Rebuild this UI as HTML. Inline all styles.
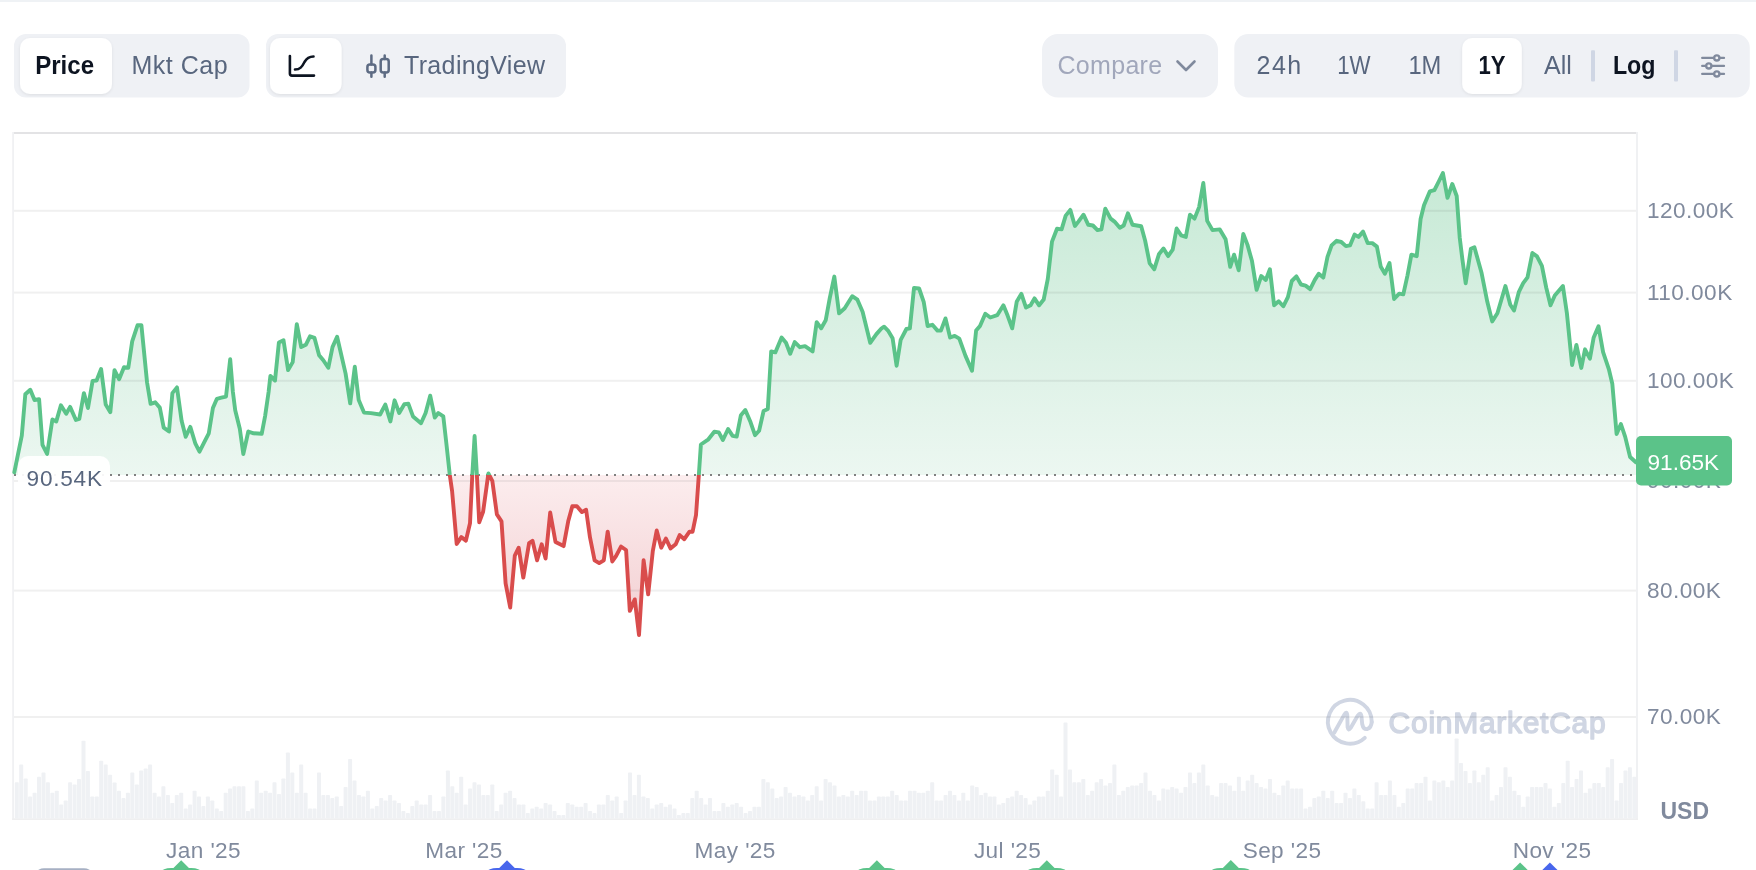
<!DOCTYPE html>
<html><head><meta charset="utf-8"><title>Chart</title>
<style>
html,body{margin:0;padding:0;background:#fff}
body{width:1756px;height:870px;overflow:hidden;position:relative;font-family:"Liberation Sans",sans-serif}
svg{position:absolute;left:0;top:0;display:block;will-change:transform}
text{font-family:"Liberation Sans",sans-serif}
.tb{font-size:25px;fill:#58667e}
.tbb{font-size:25px;fill:#0d1421;font-weight:bold}
.yl{font-size:22.6px;fill:#808a9d;letter-spacing:0.45px}
.xl{font-size:22.6px;fill:#808a9d;letter-spacing:0.4px}
</style></head><body>
<svg width="1756" height="870" viewBox="0 0 1756 870">
<defs>
<linearGradient id="gG" gradientUnits="userSpaceOnUse" x1="0" y1="170" x2="0" y2="475">
<stop offset="0" stop-color="#c6e9d5"/><stop offset="1" stop-color="#ecf7f1"/></linearGradient>
<linearGradient id="gR" gradientUnits="userSpaceOnUse" x1="0" y1="475" x2="0" y2="640">
<stop offset="0" stop-color="#fcedee"/><stop offset="1" stop-color="#f2cdd0"/></linearGradient>
<clipPath id="cA"><rect x="0" y="0" width="1756" height="475.0"/></clipPath>
<clipPath id="cB"><rect x="0" y="475.0" width="1756" height="400"/></clipPath>
<filter id="sh" x="-20%" y="-20%" width="140%" height="140%"><feDropShadow dx="0" dy="1" stdDeviation="1.5" flood-color="#0d1421" flood-opacity="0.08"/></filter>
</defs>
<rect x="0" y="0" width="1756" height="2" fill="#eff2f5"/>
<!-- top controls -->
<rect x="14" y="34" width="235.5" height="63.5" rx="12" fill="#eff1f5"/>
<rect x="20" y="38" width="92" height="56" rx="10" fill="#fff" filter="url(#sh)"/>
<text transform="matrix(0.963 0 0 1 35.2 74)" class="tbb">Price</text>
<text x="131.5" y="74" class="tb" style="letter-spacing:0.5px">Mkt Cap</text>
<rect x="266" y="34" width="300" height="63.5" rx="12" fill="#eff1f5"/>
<rect x="270" y="38" width="71.6" height="56" rx="10" fill="#fff" filter="url(#sh)"/>
<g fill="none" stroke="#0d1421" stroke-width="2.6" stroke-linecap="round" stroke-linejoin="round">
<path d="M289.9 56 V73.5 Q289.9 75.6 292 75.6 H314"/><path d="M295 69.5 C300 69.5 302 67 304.5 62 C307 57.5 309.5 56.5 313.5 56.5"/>
</g>
<g fill="none" stroke="#5d6b83" stroke-width="2.5" stroke-linecap="round">
<path d="M371.4 55.4 V64.6 M371.4 72.6 V76.8 M384.7 55.4 V58.9 M384.7 72.6 V76.8"/><rect x="367.4" y="64.6" width="8" height="8" rx="2.5"/>
<rect x="380.7" y="58.9" width="8" height="13.7" rx="2.5"/>
</g>
<text x="404" y="73.5" class="tb" style="letter-spacing:0.35px">TradingView</text>
<rect x="1042" y="34" width="176" height="63.5" rx="16" fill="#eff1f5"/>
<text x="1057.5" y="74" class="tb" style="fill:#a1a7bb;letter-spacing:0.3px">Compare</text>
<path d="M1177.5 61.5 L1186 70 L1194.5 61.5" fill="none" stroke="#808a9d" stroke-width="2.6" stroke-linecap="round" stroke-linejoin="round"/>
<rect x="1234.3" y="34" width="515.5" height="63.5" rx="14" fill="#eff1f5"/>
<text x="1256.5" y="74.2" class="tb" style="letter-spacing:1.5px">24h</text>
<text transform="matrix(0.89 0 0 1 1337.2 74.2)" class="tb">1W</text>
<text transform="matrix(0.95 0 0 1 1408.4 74.2)" class="tb">1M</text>
<rect x="1462.2" y="38" width="59.6" height="56" rx="10" fill="#fff" filter="url(#sh)"/>
<text transform="matrix(0.883 0 0 1 1478.5 74.3)" class="tbb">1Y</text>
<text x="1544" y="74.3" class="tb">All</text>
<rect x="1591" y="50.3" width="4" height="31.3" rx="1" fill="#cfd6e4"/>
<text transform="matrix(0.93 0 0 1 1612.9 74.3)" class="tbb">Log</text>
<rect x="1674" y="50.3" width="4" height="31.3" rx="1" fill="#cfd6e4"/>
<g fill="none" stroke="#808a9d" stroke-width="2.3" stroke-linecap="round">
<path d="M1702.2 57.9 H1724 M1702.2 65.9 H1724 M1702.2 73.9 H1724"/>
</g>
<g fill="#eff1f5" stroke="#808a9d" stroke-width="2.3">
<circle cx="1716.8" cy="57.9" r="2.6"/><circle cx="1708.8" cy="65.9" r="2.6"/><circle cx="1716.8" cy="73.9" r="2.6"/>
</g>
<!-- chart frame -->
<rect x="13" y="132" width="1623" height="2" fill="#e3e3e5"/>
<rect x="12.2" y="132" width="1.8" height="688" fill="#f0f1f3"/>
<rect x="1636" y="132" width="2" height="688" fill="#f0f1f3"/>
<rect x="12.2" y="818.2" width="1625.8" height="1.8" fill="#efeff0"/>
<!-- volume -->
<g fill="#eff1f4"><rect x="14.8" y="782.2" width="4" height="36.3" rx="0.8"/><rect x="19.2" y="764.6" width="4" height="53.9" rx="0.8"/><rect x="23.7" y="778.4" width="4" height="40.1" rx="0.8"/><rect x="28.1" y="796.5" width="4" height="22" rx="0.8"/><rect x="32.6" y="792.7" width="4" height="25.8" rx="0.8"/><rect x="37" y="776.8" width="4" height="41.7" rx="0.8"/><rect x="41.5" y="772.6" width="4" height="45.9" rx="0.8"/><rect x="45.9" y="782.2" width="4" height="36.3" rx="0.8"/><rect x="50.4" y="792.7" width="4" height="25.8" rx="0.8"/><rect x="54.8" y="790.8" width="4" height="27.7" rx="0.8"/><rect x="59.2" y="804.5" width="4" height="14" rx="0.8"/><rect x="63.7" y="800.4" width="4" height="18.1" rx="0.8"/><rect x="68.1" y="782.2" width="4" height="36.3" rx="0.8"/><rect x="72.6" y="784.4" width="4" height="34.1" rx="0.8"/><rect x="77" y="779" width="4" height="39.5" rx="0.8"/><rect x="81.5" y="740.7" width="4" height="77.8" rx="0.8"/><rect x="85.9" y="771" width="4" height="47.5" rx="0.8"/><rect x="90.3" y="796.5" width="4" height="22" rx="0.8"/><rect x="94.8" y="796.5" width="4" height="22" rx="0.8"/><rect x="99.2" y="760.8" width="4" height="57.7" rx="0.8"/><rect x="103.7" y="764.6" width="4" height="53.9" rx="0.8"/><rect x="108.1" y="774.8" width="4" height="43.7" rx="0.8"/><rect x="112.6" y="782.5" width="4" height="36" rx="0.8"/><rect x="117" y="790.8" width="4" height="27.7" rx="0.8"/><rect x="121.5" y="798.1" width="4" height="20.4" rx="0.8"/><rect x="125.9" y="792.7" width="4" height="25.8" rx="0.8"/><rect x="130.3" y="772.6" width="4" height="45.9" rx="0.8"/><rect x="134.8" y="784.4" width="4" height="34.1" rx="0.8"/><rect x="139.2" y="770.4" width="4" height="48.1" rx="0.8"/><rect x="143.7" y="768.5" width="4" height="50" rx="0.8"/><rect x="148.1" y="764.6" width="4" height="53.9" rx="0.8"/><rect x="152.6" y="792.7" width="4" height="25.8" rx="0.8"/><rect x="157" y="796.5" width="4" height="22" rx="0.8"/><rect x="161.4" y="786.3" width="4" height="32.2" rx="0.8"/><rect x="165.9" y="794.9" width="4" height="23.6" rx="0.8"/><rect x="170.3" y="802.9" width="4" height="15.6" rx="0.8"/><rect x="174.8" y="794.9" width="4" height="23.6" rx="0.8"/><rect x="179.2" y="792.7" width="4" height="25.8" rx="0.8"/><rect x="183.7" y="808.6" width="4" height="9.9" rx="0.8"/><rect x="188.1" y="804.5" width="4" height="14" rx="0.8"/><rect x="192.6" y="790.8" width="4" height="27.7" rx="0.8"/><rect x="197" y="796.5" width="4" height="22" rx="0.8"/><rect x="201.4" y="806.1" width="4" height="12.4" rx="0.8"/><rect x="205.9" y="796.5" width="4" height="22" rx="0.8"/><rect x="210.3" y="800.4" width="4" height="18.1" rx="0.8"/><rect x="214.8" y="808.6" width="4" height="9.9" rx="0.8"/><rect x="219.2" y="810.9" width="4" height="7.6" rx="0.8"/><rect x="223.7" y="792.7" width="4" height="25.8" rx="0.8"/><rect x="228.1" y="788.6" width="4" height="29.9" rx="0.8"/><rect x="232.5" y="786.3" width="4" height="32.2" rx="0.8"/><rect x="237" y="786.3" width="4" height="32.2" rx="0.8"/><rect x="241.4" y="786.3" width="4" height="32.2" rx="0.8"/><rect x="245.9" y="810.9" width="4" height="7.6" rx="0.8"/><rect x="250.3" y="808.6" width="4" height="9.9" rx="0.8"/><rect x="254.8" y="780.6" width="4" height="37.9" rx="0.8"/><rect x="259.2" y="792.7" width="4" height="25.8" rx="0.8"/><rect x="263.7" y="790.8" width="4" height="27.7" rx="0.8"/><rect x="268.1" y="792.7" width="4" height="25.8" rx="0.8"/><rect x="272.5" y="782.2" width="4" height="36.3" rx="0.8"/><rect x="277" y="794" width="4" height="24.5" rx="0.8"/><rect x="281.4" y="778.4" width="4" height="40.1" rx="0.8"/><rect x="285.9" y="752.5" width="4" height="66" rx="0.8"/><rect x="290.3" y="772.6" width="4" height="45.9" rx="0.8"/><rect x="294.8" y="792.7" width="4" height="25.8" rx="0.8"/><rect x="299.2" y="764.6" width="4" height="53.9" rx="0.8"/><rect x="303.6" y="792.7" width="4" height="25.8" rx="0.8"/><rect x="308.1" y="808.6" width="4" height="9.9" rx="0.8"/><rect x="312.5" y="808.6" width="4" height="9.9" rx="0.8"/><rect x="317" y="772.6" width="4" height="45.9" rx="0.8"/><rect x="321.4" y="794.9" width="4" height="23.6" rx="0.8"/><rect x="325.9" y="794.9" width="4" height="23.6" rx="0.8"/><rect x="330.3" y="798.1" width="4" height="20.4" rx="0.8"/><rect x="334.8" y="796.5" width="4" height="22" rx="0.8"/><rect x="339.2" y="806.1" width="4" height="12.4" rx="0.8"/><rect x="343.6" y="787" width="4" height="31.5" rx="0.8"/><rect x="348.1" y="758.9" width="4" height="59.6" rx="0.8"/><rect x="352.5" y="780.6" width="4" height="37.9" rx="0.8"/><rect x="357" y="794.9" width="4" height="23.6" rx="0.8"/><rect x="361.4" y="796.5" width="4" height="22" rx="0.8"/><rect x="365.9" y="790.8" width="4" height="27.7" rx="0.8"/><rect x="370.3" y="808.6" width="4" height="9.9" rx="0.8"/><rect x="374.8" y="806.1" width="4" height="12.4" rx="0.8"/><rect x="379.2" y="798.1" width="4" height="20.4" rx="0.8"/><rect x="383.6" y="800.4" width="4" height="18.1" rx="0.8"/><rect x="388.1" y="794.9" width="4" height="23.6" rx="0.8"/><rect x="392.5" y="800.4" width="4" height="18.1" rx="0.8"/><rect x="397" y="802.9" width="4" height="15.6" rx="0.8"/><rect x="401.4" y="810.9" width="4" height="7.6" rx="0.8"/><rect x="405.9" y="813.1" width="4" height="5.4" rx="0.8"/><rect x="410.3" y="806.1" width="4" height="12.4" rx="0.8"/><rect x="414.7" y="800.4" width="4" height="18.1" rx="0.8"/><rect x="419.2" y="804.5" width="4" height="14" rx="0.8"/><rect x="423.6" y="804.5" width="4" height="14" rx="0.8"/><rect x="428.1" y="794.9" width="4" height="23.6" rx="0.8"/><rect x="432.5" y="810.9" width="4" height="7.6" rx="0.8"/><rect x="437" y="810.9" width="4" height="7.6" rx="0.8"/><rect x="441.4" y="796.5" width="4" height="22" rx="0.8"/><rect x="445.9" y="770.4" width="4" height="48.1" rx="0.8"/><rect x="450.3" y="786.3" width="4" height="32.2" rx="0.8"/><rect x="454.7" y="792.7" width="4" height="25.8" rx="0.8"/><rect x="459.2" y="776.8" width="4" height="41.7" rx="0.8"/><rect x="463.6" y="804.5" width="4" height="14" rx="0.8"/><rect x="468.1" y="788.6" width="4" height="29.9" rx="0.8"/><rect x="472.5" y="782.2" width="4" height="36.3" rx="0.8"/><rect x="477" y="784.4" width="4" height="34.1" rx="0.8"/><rect x="481.4" y="794.9" width="4" height="23.6" rx="0.8"/><rect x="485.8" y="794.9" width="4" height="23.6" rx="0.8"/><rect x="490.3" y="784.4" width="4" height="34.1" rx="0.8"/><rect x="494.7" y="810.9" width="4" height="7.6" rx="0.8"/><rect x="499.2" y="804.5" width="4" height="14" rx="0.8"/><rect x="503.6" y="792.7" width="4" height="25.8" rx="0.8"/><rect x="508.1" y="790.8" width="4" height="27.7" rx="0.8"/><rect x="512.5" y="798.1" width="4" height="20.4" rx="0.8"/><rect x="517" y="804.5" width="4" height="14" rx="0.8"/><rect x="521.4" y="804.5" width="4" height="14" rx="0.8"/><rect x="525.8" y="813.1" width="4" height="5.4" rx="0.8"/><rect x="530.3" y="808.6" width="4" height="9.9" rx="0.8"/><rect x="534.7" y="806.7" width="4" height="11.8" rx="0.8"/><rect x="539.2" y="808.6" width="4" height="9.9" rx="0.8"/><rect x="543.6" y="802.9" width="4" height="15.6" rx="0.8"/><rect x="548.1" y="804.5" width="4" height="14" rx="0.8"/><rect x="552.5" y="810.9" width="4" height="7.6" rx="0.8"/><rect x="556.9" y="815" width="4" height="3.5" rx="0.8"/><rect x="561.4" y="815" width="4" height="3.5" rx="0.8"/><rect x="565.8" y="802.9" width="4" height="15.6" rx="0.8"/><rect x="570.3" y="804.5" width="4" height="14" rx="0.8"/><rect x="574.7" y="806.7" width="4" height="11.8" rx="0.8"/><rect x="579.2" y="806.7" width="4" height="11.8" rx="0.8"/><rect x="583.6" y="802.9" width="4" height="15.6" rx="0.8"/><rect x="588.1" y="810.9" width="4" height="7.6" rx="0.8"/><rect x="592.5" y="813.1" width="4" height="5.4" rx="0.8"/><rect x="596.9" y="804.5" width="4" height="14" rx="0.8"/><rect x="601.4" y="804.5" width="4" height="14" rx="0.8"/><rect x="605.8" y="794.9" width="4" height="23.6" rx="0.8"/><rect x="610.3" y="800.4" width="4" height="18.1" rx="0.8"/><rect x="614.7" y="796.5" width="4" height="22" rx="0.8"/><rect x="619.2" y="813.1" width="4" height="5.4" rx="0.8"/><rect x="623.6" y="800.4" width="4" height="18.1" rx="0.8"/><rect x="628" y="772.6" width="4" height="45.9" rx="0.8"/><rect x="632.5" y="794.9" width="4" height="23.6" rx="0.8"/><rect x="636.9" y="774.8" width="4" height="43.7" rx="0.8"/><rect x="641.4" y="796.5" width="4" height="22" rx="0.8"/><rect x="645.8" y="798.1" width="4" height="20.4" rx="0.8"/><rect x="650.3" y="808.6" width="4" height="9.9" rx="0.8"/><rect x="654.7" y="804.5" width="4" height="14" rx="0.8"/><rect x="659.2" y="802.9" width="4" height="15.6" rx="0.8"/><rect x="663.6" y="806.7" width="4" height="11.8" rx="0.8"/><rect x="668" y="804.5" width="4" height="14" rx="0.8"/><rect x="672.5" y="808.6" width="4" height="9.9" rx="0.8"/><rect x="676.9" y="815" width="4" height="3.5" rx="0.8"/><rect x="681.4" y="813.1" width="4" height="5.4" rx="0.8"/><rect x="685.8" y="813.1" width="4" height="5.4" rx="0.8"/><rect x="690.3" y="798.1" width="4" height="20.4" rx="0.8"/><rect x="694.7" y="790.8" width="4" height="27.7" rx="0.8"/><rect x="699.2" y="798.1" width="4" height="20.4" rx="0.8"/><rect x="703.6" y="804.5" width="4" height="14" rx="0.8"/><rect x="708" y="798.1" width="4" height="20.4" rx="0.8"/><rect x="712.5" y="810.9" width="4" height="7.6" rx="0.8"/><rect x="716.9" y="810.9" width="4" height="7.6" rx="0.8"/><rect x="721.4" y="802.9" width="4" height="15.6" rx="0.8"/><rect x="725.8" y="806.7" width="4" height="11.8" rx="0.8"/><rect x="730.3" y="804.5" width="4" height="14" rx="0.8"/><rect x="734.7" y="802.9" width="4" height="15.6" rx="0.8"/><rect x="739.1" y="806.7" width="4" height="11.8" rx="0.8"/><rect x="743.6" y="813.1" width="4" height="5.4" rx="0.8"/><rect x="748" y="810.9" width="4" height="7.6" rx="0.8"/><rect x="752.5" y="806.7" width="4" height="11.8" rx="0.8"/><rect x="756.9" y="806.7" width="4" height="11.8" rx="0.8"/><rect x="761.4" y="779" width="4" height="39.5" rx="0.8"/><rect x="765.8" y="782.2" width="4" height="36.3" rx="0.8"/><rect x="770.3" y="788.6" width="4" height="29.9" rx="0.8"/><rect x="774.7" y="798.1" width="4" height="20.4" rx="0.8"/><rect x="779.1" y="796.5" width="4" height="22" rx="0.8"/><rect x="783.6" y="787" width="4" height="31.5" rx="0.8"/><rect x="788" y="792.7" width="4" height="25.8" rx="0.8"/><rect x="792.5" y="796.5" width="4" height="22" rx="0.8"/><rect x="796.9" y="794.9" width="4" height="23.6" rx="0.8"/><rect x="801.4" y="796.5" width="4" height="22" rx="0.8"/><rect x="805.8" y="800.4" width="4" height="18.1" rx="0.8"/><rect x="810.2" y="794.9" width="4" height="23.6" rx="0.8"/><rect x="814.7" y="786.3" width="4" height="32.2" rx="0.8"/><rect x="819.1" y="800.4" width="4" height="18.1" rx="0.8"/><rect x="823.6" y="779" width="4" height="39.5" rx="0.8"/><rect x="828" y="782.2" width="4" height="36.3" rx="0.8"/><rect x="832.5" y="785.4" width="4" height="33.1" rx="0.8"/><rect x="836.9" y="796.5" width="4" height="22" rx="0.8"/><rect x="841.4" y="794.9" width="4" height="23.6" rx="0.8"/><rect x="845.8" y="796.5" width="4" height="22" rx="0.8"/><rect x="850.2" y="790.8" width="4" height="27.7" rx="0.8"/><rect x="854.7" y="794.9" width="4" height="23.6" rx="0.8"/><rect x="859.1" y="790.8" width="4" height="27.7" rx="0.8"/><rect x="863.6" y="790.8" width="4" height="27.7" rx="0.8"/><rect x="868" y="800.4" width="4" height="18.1" rx="0.8"/><rect x="872.5" y="800.4" width="4" height="18.1" rx="0.8"/><rect x="876.9" y="796.5" width="4" height="22" rx="0.8"/><rect x="881.3" y="796.5" width="4" height="22" rx="0.8"/><rect x="885.8" y="796.5" width="4" height="22" rx="0.8"/><rect x="890.2" y="790.8" width="4" height="27.7" rx="0.8"/><rect x="894.7" y="794.9" width="4" height="23.6" rx="0.8"/><rect x="899.1" y="800.4" width="4" height="18.1" rx="0.8"/><rect x="903.6" y="800.4" width="4" height="18.1" rx="0.8"/><rect x="908" y="790.8" width="4" height="27.7" rx="0.8"/><rect x="912.5" y="790.8" width="4" height="27.7" rx="0.8"/><rect x="916.9" y="792.7" width="4" height="25.8" rx="0.8"/><rect x="921.3" y="792.7" width="4" height="25.8" rx="0.8"/><rect x="925.8" y="790.8" width="4" height="27.7" rx="0.8"/><rect x="930.2" y="782.2" width="4" height="36.3" rx="0.8"/><rect x="934.7" y="800.4" width="4" height="18.1" rx="0.8"/><rect x="939.1" y="800.4" width="4" height="18.1" rx="0.8"/><rect x="943.6" y="794.9" width="4" height="23.6" rx="0.8"/><rect x="948" y="790.8" width="4" height="27.7" rx="0.8"/><rect x="952.4" y="794.9" width="4" height="23.6" rx="0.8"/><rect x="956.9" y="800.4" width="4" height="18.1" rx="0.8"/><rect x="961.3" y="792.7" width="4" height="25.8" rx="0.8"/><rect x="965.8" y="800.4" width="4" height="18.1" rx="0.8"/><rect x="970.2" y="785.4" width="4" height="33.1" rx="0.8"/><rect x="974.7" y="787" width="4" height="31.5" rx="0.8"/><rect x="979.1" y="794.9" width="4" height="23.6" rx="0.8"/><rect x="983.6" y="792.7" width="4" height="25.8" rx="0.8"/><rect x="988" y="796.5" width="4" height="22" rx="0.8"/><rect x="992.4" y="796.5" width="4" height="22" rx="0.8"/><rect x="996.9" y="804.5" width="4" height="14" rx="0.8"/><rect x="1001.3" y="802.9" width="4" height="15.6" rx="0.8"/><rect x="1005.8" y="798.1" width="4" height="20.4" rx="0.8"/><rect x="1010.2" y="796.5" width="4" height="22" rx="0.8"/><rect x="1014.7" y="790.8" width="4" height="27.7" rx="0.8"/><rect x="1019.1" y="794.9" width="4" height="23.6" rx="0.8"/><rect x="1023.6" y="798.1" width="4" height="20.4" rx="0.8"/><rect x="1028" y="804.5" width="4" height="14" rx="0.8"/><rect x="1032.4" y="800.4" width="4" height="18.1" rx="0.8"/><rect x="1036.9" y="796.5" width="4" height="22" rx="0.8"/><rect x="1041.3" y="796.5" width="4" height="22" rx="0.8"/><rect x="1045.8" y="790.8" width="4" height="27.7" rx="0.8"/><rect x="1050.2" y="769.4" width="4" height="49.1" rx="0.8"/><rect x="1054.7" y="774.8" width="4" height="43.7" rx="0.8"/><rect x="1059.1" y="796.5" width="4" height="22" rx="0.8"/><rect x="1063.5" y="722.6" width="4" height="95.9" rx="0.8"/><rect x="1068" y="769.4" width="4" height="49.1" rx="0.8"/><rect x="1072.4" y="782.2" width="4" height="36.3" rx="0.8"/><rect x="1076.9" y="782.2" width="4" height="36.3" rx="0.8"/><rect x="1081.3" y="779" width="4" height="39.5" rx="0.8"/><rect x="1085.8" y="794.9" width="4" height="23.6" rx="0.8"/><rect x="1090.2" y="790.8" width="4" height="27.7" rx="0.8"/><rect x="1094.7" y="782.2" width="4" height="36.3" rx="0.8"/><rect x="1099.1" y="779" width="4" height="39.5" rx="0.8"/><rect x="1103.5" y="785.4" width="4" height="33.1" rx="0.8"/><rect x="1108" y="783.1" width="4" height="35.4" rx="0.8"/><rect x="1112.4" y="764.6" width="4" height="53.9" rx="0.8"/><rect x="1116.9" y="794.9" width="4" height="23.6" rx="0.8"/><rect x="1121.3" y="790.8" width="4" height="27.7" rx="0.8"/><rect x="1125.8" y="787" width="4" height="31.5" rx="0.8"/><rect x="1130.2" y="785.4" width="4" height="33.1" rx="0.8"/><rect x="1134.6" y="785.4" width="4" height="33.1" rx="0.8"/><rect x="1139.1" y="783.1" width="4" height="35.4" rx="0.8"/><rect x="1143.5" y="772.6" width="4" height="45.9" rx="0.8"/><rect x="1148" y="790.8" width="4" height="27.7" rx="0.8"/><rect x="1152.4" y="794.9" width="4" height="23.6" rx="0.8"/><rect x="1156.9" y="800.4" width="4" height="18.1" rx="0.8"/><rect x="1161.3" y="788.6" width="4" height="29.9" rx="0.8"/><rect x="1165.8" y="789.5" width="4" height="29" rx="0.8"/><rect x="1170.2" y="787" width="4" height="31.5" rx="0.8"/><rect x="1174.6" y="788.6" width="4" height="29.9" rx="0.8"/><rect x="1179.1" y="792.7" width="4" height="25.8" rx="0.8"/><rect x="1183.5" y="787" width="4" height="31.5" rx="0.8"/><rect x="1188" y="772.6" width="4" height="45.9" rx="0.8"/><rect x="1192.4" y="783.1" width="4" height="35.4" rx="0.8"/><rect x="1196.9" y="772.6" width="4" height="45.9" rx="0.8"/><rect x="1201.3" y="764.6" width="4" height="53.9" rx="0.8"/><rect x="1205.7" y="785.4" width="4" height="33.1" rx="0.8"/><rect x="1210.2" y="794.9" width="4" height="23.6" rx="0.8"/><rect x="1214.6" y="796.5" width="4" height="22" rx="0.8"/><rect x="1219.1" y="783.1" width="4" height="35.4" rx="0.8"/><rect x="1223.5" y="783.1" width="4" height="35.4" rx="0.8"/><rect x="1228" y="785.4" width="4" height="33.1" rx="0.8"/><rect x="1232.4" y="790.8" width="4" height="27.7" rx="0.8"/><rect x="1236.9" y="776.8" width="4" height="41.7" rx="0.8"/><rect x="1241.3" y="790.8" width="4" height="27.7" rx="0.8"/><rect x="1245.7" y="780.6" width="4" height="37.9" rx="0.8"/><rect x="1250.2" y="774.8" width="4" height="43.7" rx="0.8"/><rect x="1254.6" y="783.1" width="4" height="35.4" rx="0.8"/><rect x="1259.1" y="787" width="4" height="31.5" rx="0.8"/><rect x="1263.5" y="788.6" width="4" height="29.9" rx="0.8"/><rect x="1268" y="779" width="4" height="39.5" rx="0.8"/><rect x="1272.4" y="792.7" width="4" height="25.8" rx="0.8"/><rect x="1276.8" y="794.9" width="4" height="23.6" rx="0.8"/><rect x="1281.3" y="785.4" width="4" height="33.1" rx="0.8"/><rect x="1285.7" y="780.6" width="4" height="37.9" rx="0.8"/><rect x="1290.2" y="788.6" width="4" height="29.9" rx="0.8"/><rect x="1294.6" y="788.6" width="4" height="29.9" rx="0.8"/><rect x="1299.1" y="788.6" width="4" height="29.9" rx="0.8"/><rect x="1303.5" y="808.6" width="4" height="9.9" rx="0.8"/><rect x="1308" y="806.7" width="4" height="11.8" rx="0.8"/><rect x="1312.4" y="798.1" width="4" height="20.4" rx="0.8"/><rect x="1316.8" y="796.5" width="4" height="22" rx="0.8"/><rect x="1321.3" y="790.8" width="4" height="27.7" rx="0.8"/><rect x="1325.7" y="798.1" width="4" height="20.4" rx="0.8"/><rect x="1330.2" y="790.8" width="4" height="27.7" rx="0.8"/><rect x="1334.6" y="802.9" width="4" height="15.6" rx="0.8"/><rect x="1339.1" y="802.9" width="4" height="15.6" rx="0.8"/><rect x="1343.5" y="792.7" width="4" height="25.8" rx="0.8"/><rect x="1348" y="798.1" width="4" height="20.4" rx="0.8"/><rect x="1352.4" y="788.6" width="4" height="29.9" rx="0.8"/><rect x="1356.8" y="794.9" width="4" height="23.6" rx="0.8"/><rect x="1361.3" y="801.3" width="4" height="17.2" rx="0.8"/><rect x="1365.7" y="808.6" width="4" height="9.9" rx="0.8"/><rect x="1370.2" y="808.6" width="4" height="9.9" rx="0.8"/><rect x="1374.6" y="782.2" width="4" height="36.3" rx="0.8"/><rect x="1379.1" y="794.9" width="4" height="23.6" rx="0.8"/><rect x="1383.5" y="794.9" width="4" height="23.6" rx="0.8"/><rect x="1387.9" y="780.6" width="4" height="37.9" rx="0.8"/><rect x="1392.4" y="794.9" width="4" height="23.6" rx="0.8"/><rect x="1396.8" y="806.7" width="4" height="11.8" rx="0.8"/><rect x="1401.3" y="802.9" width="4" height="15.6" rx="0.8"/><rect x="1405.7" y="788.6" width="4" height="29.9" rx="0.8"/><rect x="1410.2" y="788.6" width="4" height="29.9" rx="0.8"/><rect x="1414.6" y="783.1" width="4" height="35.4" rx="0.8"/><rect x="1419.1" y="783.1" width="4" height="35.4" rx="0.8"/><rect x="1423.5" y="776.8" width="4" height="41.7" rx="0.8"/><rect x="1427.9" y="800.4" width="4" height="18.1" rx="0.8"/><rect x="1432.4" y="780.6" width="4" height="37.9" rx="0.8"/><rect x="1436.8" y="782.2" width="4" height="36.3" rx="0.8"/><rect x="1441.3" y="780.6" width="4" height="37.9" rx="0.8"/><rect x="1445.7" y="787" width="4" height="31.5" rx="0.8"/><rect x="1450.2" y="780.6" width="4" height="37.9" rx="0.8"/><rect x="1454.6" y="738.5" width="4" height="80" rx="0.8"/><rect x="1459" y="763" width="4" height="55.5" rx="0.8"/><rect x="1463.5" y="771" width="4" height="47.5" rx="0.8"/><rect x="1467.9" y="783.1" width="4" height="35.4" rx="0.8"/><rect x="1472.4" y="770.4" width="4" height="48.1" rx="0.8"/><rect x="1476.8" y="782.2" width="4" height="36.3" rx="0.8"/><rect x="1481.3" y="774.8" width="4" height="43.7" rx="0.8"/><rect x="1485.7" y="767.2" width="4" height="51.3" rx="0.8"/><rect x="1490.2" y="800.4" width="4" height="18.1" rx="0.8"/><rect x="1494.6" y="794.9" width="4" height="23.6" rx="0.8"/><rect x="1499" y="787" width="4" height="31.5" rx="0.8"/><rect x="1503.5" y="767.2" width="4" height="51.3" rx="0.8"/><rect x="1507.9" y="776.8" width="4" height="41.7" rx="0.8"/><rect x="1512.4" y="790.8" width="4" height="27.7" rx="0.8"/><rect x="1516.8" y="794.9" width="4" height="23.6" rx="0.8"/><rect x="1521.3" y="806.7" width="4" height="11.8" rx="0.8"/><rect x="1525.7" y="796.5" width="4" height="22" rx="0.8"/><rect x="1530.1" y="787" width="4" height="31.5" rx="0.8"/><rect x="1534.6" y="787" width="4" height="31.5" rx="0.8"/><rect x="1539" y="787" width="4" height="31.5" rx="0.8"/><rect x="1543.5" y="783.1" width="4" height="35.4" rx="0.8"/><rect x="1547.9" y="788.6" width="4" height="29.9" rx="0.8"/><rect x="1552.4" y="806.7" width="4" height="11.8" rx="0.8"/><rect x="1556.8" y="802.9" width="4" height="15.6" rx="0.8"/><rect x="1561.3" y="783.1" width="4" height="35.4" rx="0.8"/><rect x="1565.7" y="760.8" width="4" height="57.7" rx="0.8"/><rect x="1570.1" y="787" width="4" height="31.5" rx="0.8"/><rect x="1574.6" y="779" width="4" height="39.5" rx="0.8"/><rect x="1579" y="770.4" width="4" height="48.1" rx="0.8"/><rect x="1583.5" y="792.7" width="4" height="25.8" rx="0.8"/><rect x="1587.9" y="788.6" width="4" height="29.9" rx="0.8"/><rect x="1592.4" y="783.1" width="4" height="35.4" rx="0.8"/><rect x="1596.8" y="783.1" width="4" height="35.4" rx="0.8"/><rect x="1601.2" y="787" width="4" height="31.5" rx="0.8"/><rect x="1605.7" y="767.2" width="4" height="51.3" rx="0.8"/><rect x="1610.1" y="758.9" width="4" height="59.6" rx="0.8"/><rect x="1614.6" y="800.4" width="4" height="18.1" rx="0.8"/><rect x="1619" y="783.1" width="4" height="35.4" rx="0.8"/><rect x="1623.5" y="770.4" width="4" height="48.1" rx="0.8"/><rect x="1627.9" y="767.2" width="4" height="51.3" rx="0.8"/><rect x="1632.4" y="776.8" width="4" height="41.7" rx="0.8"/></g>
<!-- watermark -->
<g fill="none" stroke="#d0d6e3" stroke-width="3.9" stroke-linecap="round" stroke-linejoin="round">
<path d="M1364.8 737.8 A21.9 21.9 0 1 1 1371.75 721.9"/>
<path d="M1334.2 732.8 L1344.3 714.6 Q1346.5 710.6 1347.3 715 L1347.6 727.3 Q1348.3 731.5 1350.6 728 L1357.8 715.6 Q1360.5 711.6 1361.4 716 L1362.2 724 Q1363.4 730 1367.4 729 Q1371.3 727.6 1371.7 722"/>
</g>
<text x="1388.6" y="733.3" font-size="30" fill="#d0d6e3" stroke="#d0d6e3" stroke-width="1.4" stroke-linejoin="round" letter-spacing="0.72">CoinMarketCap</text>
<!-- area -->
<path d="M14.3 472.4 L21.8 435.6 L25.3 394.3 L30.3 389.7 L34.5 400 L39.1 399.3 L42.5 444.8 L47.1 454 L52.4 419.5 L56.3 421.4 L60.9 405.3 L66.2 413.8 L70.1 406.9 L75.9 420 L79.3 419 L83.9 393.1 L88 408 L92.6 380.9 L96.6 380.5 L101.1 369 L105.7 404.6 L110.3 412.2 L114.5 370.1 L119.1 379.3 L124.1 367.1 L128.3 367.8 L132.2 341.4 L137.5 325.3 L141.4 325.3 L147.1 382.8 L150.6 403.9 L155.2 402.3 L159.8 407.6 L163.7 427.6 L169 431.5 L172.4 393.1 L177 387.4 L181.6 420.7 L185.7 436.8 L190.3 426.9 L195.4 443.7 L199.5 451.7 L205.3 440.2 L208.8 433.3 L212.9 408 L216.8 398.9 L221.4 397.7 L226 396.6 L230.2 359.3 L232.9 392 L235.2 410.3 L239.8 428.7 L243.3 454 L248.3 431.5 L253.6 433.3 L261.7 433.8 L265.1 416.1 L268.6 392 L270.4 375.9 L275 380.5 L278.9 342.5 L283.5 340.2 L288.1 370.1 L292.7 362.1 L296.8 324.1 L301.2 347.1 L305.8 344.8 L310 336.3 L314.5 337.9 L319.1 355.2 L323.3 360.2 L328.3 367.8 L332.5 347.1 L337.1 336.8 L345.6 373.6 L350.2 403.4 L354.8 366.7 L358.7 400 L364 412.6 L370.9 413.1 L380.1 414.5 L385.3 404.6 L390.4 421.4 L394.6 400.3 L399.2 413 L404.3 404.3 L408.4 403.8 L413 416.4 L421 423.3 L425.6 413 L430.2 395.7 L434.8 417.6 L438.3 413 L443.3 416.4 L446.3 442.9 L449.8 475 L452.1 491.1 L456.7 544 L461.3 537.1 L465.9 540.6 L470 523.3 L472.3 475 L474.6 436 L476.9 475 L479.2 522.2 L483.1 511.8 L486.6 486.6 L488.4 473.5 L492.3 480.8 L496.9 514.4 L501.5 521.3 L505.6 583.3 L510.2 607.5 L514.8 555.7 L518.7 547.7 L523.3 577.6 L529.1 543.1 L532.5 540.8 L537.1 560.3 L541.7 544.3 L545.6 558.5 L550.2 512.5 L555.5 542 L563.6 546.1 L568.2 521.3 L572.3 506.3 L576.9 506.3 L582 512.1 L586.1 509.8 L590 537.4 L594.6 560.3 L599.2 563.1 L603.8 560.3 L607.7 531.6 L612.3 561.5 L616 556.2 L621 546.6 L626.1 550 L629.8 610.9 L634.8 599.4 L639 635.1 L643.6 560.3 L648.2 594.4 L652.8 551.1 L656.7 530.5 L661.3 547.7 L665.9 538.5 L670.5 548.4 L675.7 544.3 L679.7 535.1 L684.3 539.2 L689.5 531.6 L692.6 531.7 L696 515.2 L698.8 475.5 L700.9 444.5 L708.4 439.3 L714.3 431.7 L718.8 432.4 L722.9 440 L728.1 429 L732.6 435.9 L736.7 436.6 L740.9 415.2 L745.3 410 L750.5 422.1 L755 435.2 L759.1 430.7 L763.6 411 L767.8 409 L771.2 351.4 L775.3 352.4 L781.6 337.6 L786 342.8 L790.2 353.8 L794.7 342.1 L799.8 347.2 L805 346.2 L812.6 351.4 L816.7 322.1 L821.2 328.3 L825.7 320.3 L829.8 297.9 L834.3 276.6 L839.1 313.4 L844.7 308.3 L852.2 296.2 L857.4 299.7 L862.6 311.7 L870.2 342.8 L876.4 334.1 L881.6 328.3 L884.1 326.7 L888 330.6 L892.6 338.2 L896.6 365.7 L900.7 339.8 L906.4 329 L909.9 328.3 L914 288 L919.1 288.5 L923.7 301.8 L927.6 326 L932.4 324.8 L937.5 330.6 L940.9 330.6 L945.5 318.4 L950.1 337.5 L954.7 335.9 L959.3 338.6 L965.5 355.9 L972 370.8 L976.1 330.6 L980 326 L985.3 313.8 L990.3 317.5 L997.2 315.2 L1003.4 305.3 L1007.6 315.6 L1012.2 328.3 L1016.8 301.4 L1021.4 293.8 L1026 307.6 L1030.6 305.3 L1034.5 298.4 L1039.1 305.3 L1043.7 299.5 L1047.8 278.9 L1052 241.6 L1057 228.7 L1061.6 229.4 L1065.7 215.6 L1070.3 209.9 L1074.9 226 L1078.4 221.6 L1083.5 214.7 L1088.3 224.8 L1092.9 225.5 L1097.5 230.1 L1101.4 229.4 L1105.3 208.7 L1110.6 218.6 L1114.5 221.6 L1119.8 227.8 L1123.7 225.5 L1127.9 213.3 L1132.5 224.8 L1141.2 226.2 L1145.1 240.5 L1149.7 263.4 L1154.3 269.2 L1158.9 254.3 L1163.5 248.5 L1168.1 256.1 L1172.7 249.7 L1176.6 228.5 L1181.2 235.4 L1185.8 237 L1190 214.7 L1194.5 218.6 L1199.1 207.1 L1203.3 183 L1207.2 220.9 L1212.5 230.1 L1219.8 229.4 L1225.6 239.3 L1230.2 266.9 L1234.1 254.7 L1238.7 270.3 L1243.3 234 L1247.4 244.6 L1252 261.1 L1256.6 289.9 L1261.2 276.1 L1265.8 280 L1269.9 269.2 L1274.1 305.2 L1278.7 301.3 L1283.3 306.3 L1287.9 297.1 L1291.8 281 L1296.4 276.4 L1301 284.5 L1305.6 285.6 L1310.2 289.1 L1314.8 279.9 L1318.7 273.7 L1323.3 277.6 L1327.5 256.9 L1331.6 245.4 L1336.7 240.8 L1341.3 242 L1345.9 246.1 L1350 245.4 L1354.6 234.6 L1358.5 236.9 L1363.1 231.6 L1367.7 243.1 L1372.3 243.1 L1376.9 246.6 L1380.8 266.8 L1384.9 273.7 L1389.5 263.1 L1394.1 299 L1399.2 293.7 L1403.3 294.4 L1407.5 275.3 L1411.4 254.6 L1416.7 256.2 L1420.6 219 L1424 205.2 L1429.8 191.4 L1434.4 190.2 L1439 181 L1442.9 173 L1447.5 197.8 L1452.3 184 L1456.7 196 L1459.7 237.4 L1462.3 258.7 L1465.7 283.2 L1470.9 248.7 L1474.4 247.2 L1481.6 273.1 L1487.3 301.8 L1492.2 321.4 L1497.4 313.3 L1505.4 286 L1510.3 304.7 L1514 310.5 L1518.9 291.8 L1523.2 283.2 L1527.5 277.4 L1532.4 253 L1537 256.4 L1541.9 265.9 L1546.2 287.5 L1550.5 305.3 L1554.8 295.5 L1562.9 286 L1566.9 313.3 L1572.1 365.1 L1576.4 344.9 L1581.3 367.9 L1585 349.3 L1589.9 358.7 L1593.6 337.8 L1598.5 326.3 L1603.1 352.1 L1608.9 369.4 L1612.3 383.7 L1616.6 434 L1620.9 424 L1625.2 436.9 L1630.1 457 L1635.9 462.2 L1635.9 475.0 L14.3 475.0 Z" fill="url(#gG)" clip-path="url(#cA)"/>
<path d="M14.3 472.4 L21.8 435.6 L25.3 394.3 L30.3 389.7 L34.5 400 L39.1 399.3 L42.5 444.8 L47.1 454 L52.4 419.5 L56.3 421.4 L60.9 405.3 L66.2 413.8 L70.1 406.9 L75.9 420 L79.3 419 L83.9 393.1 L88 408 L92.6 380.9 L96.6 380.5 L101.1 369 L105.7 404.6 L110.3 412.2 L114.5 370.1 L119.1 379.3 L124.1 367.1 L128.3 367.8 L132.2 341.4 L137.5 325.3 L141.4 325.3 L147.1 382.8 L150.6 403.9 L155.2 402.3 L159.8 407.6 L163.7 427.6 L169 431.5 L172.4 393.1 L177 387.4 L181.6 420.7 L185.7 436.8 L190.3 426.9 L195.4 443.7 L199.5 451.7 L205.3 440.2 L208.8 433.3 L212.9 408 L216.8 398.9 L221.4 397.7 L226 396.6 L230.2 359.3 L232.9 392 L235.2 410.3 L239.8 428.7 L243.3 454 L248.3 431.5 L253.6 433.3 L261.7 433.8 L265.1 416.1 L268.6 392 L270.4 375.9 L275 380.5 L278.9 342.5 L283.5 340.2 L288.1 370.1 L292.7 362.1 L296.8 324.1 L301.2 347.1 L305.8 344.8 L310 336.3 L314.5 337.9 L319.1 355.2 L323.3 360.2 L328.3 367.8 L332.5 347.1 L337.1 336.8 L345.6 373.6 L350.2 403.4 L354.8 366.7 L358.7 400 L364 412.6 L370.9 413.1 L380.1 414.5 L385.3 404.6 L390.4 421.4 L394.6 400.3 L399.2 413 L404.3 404.3 L408.4 403.8 L413 416.4 L421 423.3 L425.6 413 L430.2 395.7 L434.8 417.6 L438.3 413 L443.3 416.4 L446.3 442.9 L449.8 475 L452.1 491.1 L456.7 544 L461.3 537.1 L465.9 540.6 L470 523.3 L472.3 475 L474.6 436 L476.9 475 L479.2 522.2 L483.1 511.8 L486.6 486.6 L488.4 473.5 L492.3 480.8 L496.9 514.4 L501.5 521.3 L505.6 583.3 L510.2 607.5 L514.8 555.7 L518.7 547.7 L523.3 577.6 L529.1 543.1 L532.5 540.8 L537.1 560.3 L541.7 544.3 L545.6 558.5 L550.2 512.5 L555.5 542 L563.6 546.1 L568.2 521.3 L572.3 506.3 L576.9 506.3 L582 512.1 L586.1 509.8 L590 537.4 L594.6 560.3 L599.2 563.1 L603.8 560.3 L607.7 531.6 L612.3 561.5 L616 556.2 L621 546.6 L626.1 550 L629.8 610.9 L634.8 599.4 L639 635.1 L643.6 560.3 L648.2 594.4 L652.8 551.1 L656.7 530.5 L661.3 547.7 L665.9 538.5 L670.5 548.4 L675.7 544.3 L679.7 535.1 L684.3 539.2 L689.5 531.6 L692.6 531.7 L696 515.2 L698.8 475.5 L700.9 444.5 L708.4 439.3 L714.3 431.7 L718.8 432.4 L722.9 440 L728.1 429 L732.6 435.9 L736.7 436.6 L740.9 415.2 L745.3 410 L750.5 422.1 L755 435.2 L759.1 430.7 L763.6 411 L767.8 409 L771.2 351.4 L775.3 352.4 L781.6 337.6 L786 342.8 L790.2 353.8 L794.7 342.1 L799.8 347.2 L805 346.2 L812.6 351.4 L816.7 322.1 L821.2 328.3 L825.7 320.3 L829.8 297.9 L834.3 276.6 L839.1 313.4 L844.7 308.3 L852.2 296.2 L857.4 299.7 L862.6 311.7 L870.2 342.8 L876.4 334.1 L881.6 328.3 L884.1 326.7 L888 330.6 L892.6 338.2 L896.6 365.7 L900.7 339.8 L906.4 329 L909.9 328.3 L914 288 L919.1 288.5 L923.7 301.8 L927.6 326 L932.4 324.8 L937.5 330.6 L940.9 330.6 L945.5 318.4 L950.1 337.5 L954.7 335.9 L959.3 338.6 L965.5 355.9 L972 370.8 L976.1 330.6 L980 326 L985.3 313.8 L990.3 317.5 L997.2 315.2 L1003.4 305.3 L1007.6 315.6 L1012.2 328.3 L1016.8 301.4 L1021.4 293.8 L1026 307.6 L1030.6 305.3 L1034.5 298.4 L1039.1 305.3 L1043.7 299.5 L1047.8 278.9 L1052 241.6 L1057 228.7 L1061.6 229.4 L1065.7 215.6 L1070.3 209.9 L1074.9 226 L1078.4 221.6 L1083.5 214.7 L1088.3 224.8 L1092.9 225.5 L1097.5 230.1 L1101.4 229.4 L1105.3 208.7 L1110.6 218.6 L1114.5 221.6 L1119.8 227.8 L1123.7 225.5 L1127.9 213.3 L1132.5 224.8 L1141.2 226.2 L1145.1 240.5 L1149.7 263.4 L1154.3 269.2 L1158.9 254.3 L1163.5 248.5 L1168.1 256.1 L1172.7 249.7 L1176.6 228.5 L1181.2 235.4 L1185.8 237 L1190 214.7 L1194.5 218.6 L1199.1 207.1 L1203.3 183 L1207.2 220.9 L1212.5 230.1 L1219.8 229.4 L1225.6 239.3 L1230.2 266.9 L1234.1 254.7 L1238.7 270.3 L1243.3 234 L1247.4 244.6 L1252 261.1 L1256.6 289.9 L1261.2 276.1 L1265.8 280 L1269.9 269.2 L1274.1 305.2 L1278.7 301.3 L1283.3 306.3 L1287.9 297.1 L1291.8 281 L1296.4 276.4 L1301 284.5 L1305.6 285.6 L1310.2 289.1 L1314.8 279.9 L1318.7 273.7 L1323.3 277.6 L1327.5 256.9 L1331.6 245.4 L1336.7 240.8 L1341.3 242 L1345.9 246.1 L1350 245.4 L1354.6 234.6 L1358.5 236.9 L1363.1 231.6 L1367.7 243.1 L1372.3 243.1 L1376.9 246.6 L1380.8 266.8 L1384.9 273.7 L1389.5 263.1 L1394.1 299 L1399.2 293.7 L1403.3 294.4 L1407.5 275.3 L1411.4 254.6 L1416.7 256.2 L1420.6 219 L1424 205.2 L1429.8 191.4 L1434.4 190.2 L1439 181 L1442.9 173 L1447.5 197.8 L1452.3 184 L1456.7 196 L1459.7 237.4 L1462.3 258.7 L1465.7 283.2 L1470.9 248.7 L1474.4 247.2 L1481.6 273.1 L1487.3 301.8 L1492.2 321.4 L1497.4 313.3 L1505.4 286 L1510.3 304.7 L1514 310.5 L1518.9 291.8 L1523.2 283.2 L1527.5 277.4 L1532.4 253 L1537 256.4 L1541.9 265.9 L1546.2 287.5 L1550.5 305.3 L1554.8 295.5 L1562.9 286 L1566.9 313.3 L1572.1 365.1 L1576.4 344.9 L1581.3 367.9 L1585 349.3 L1589.9 358.7 L1593.6 337.8 L1598.5 326.3 L1603.1 352.1 L1608.9 369.4 L1612.3 383.7 L1616.6 434 L1620.9 424 L1625.2 436.9 L1630.1 457 L1635.9 462.2 L1635.9 475.0 L14.3 475.0 Z" fill="url(#gR)" clip-path="url(#cB)"/>
<rect x="14" y="209.8" width="1622" height="2" fill="#000" fill-opacity="0.06"/><rect x="14" y="291.6" width="1622" height="2" fill="#000" fill-opacity="0.06"/><rect x="14" y="379.8" width="1622" height="2" fill="#000" fill-opacity="0.06"/><rect x="14" y="480" width="1622" height="2" fill="#000" fill-opacity="0.06"/><rect x="14" y="589.6" width="1622" height="2" fill="#000" fill-opacity="0.06"/><rect x="14" y="716" width="1622" height="2" fill="#000" fill-opacity="0.06"/>
<!-- baseline dotted -->
<line x1="14" y1="475" x2="1636" y2="475" stroke="#808080" stroke-width="2" stroke-dasharray="2 6"/>
<path d="M14.3 472.4 L21.8 435.6 L25.3 394.3 L30.3 389.7 L34.5 400 L39.1 399.3 L42.5 444.8 L47.1 454 L52.4 419.5 L56.3 421.4 L60.9 405.3 L66.2 413.8 L70.1 406.9 L75.9 420 L79.3 419 L83.9 393.1 L88 408 L92.6 380.9 L96.6 380.5 L101.1 369 L105.7 404.6 L110.3 412.2 L114.5 370.1 L119.1 379.3 L124.1 367.1 L128.3 367.8 L132.2 341.4 L137.5 325.3 L141.4 325.3 L147.1 382.8 L150.6 403.9 L155.2 402.3 L159.8 407.6 L163.7 427.6 L169 431.5 L172.4 393.1 L177 387.4 L181.6 420.7 L185.7 436.8 L190.3 426.9 L195.4 443.7 L199.5 451.7 L205.3 440.2 L208.8 433.3 L212.9 408 L216.8 398.9 L221.4 397.7 L226 396.6 L230.2 359.3 L232.9 392 L235.2 410.3 L239.8 428.7 L243.3 454 L248.3 431.5 L253.6 433.3 L261.7 433.8 L265.1 416.1 L268.6 392 L270.4 375.9 L275 380.5 L278.9 342.5 L283.5 340.2 L288.1 370.1 L292.7 362.1 L296.8 324.1 L301.2 347.1 L305.8 344.8 L310 336.3 L314.5 337.9 L319.1 355.2 L323.3 360.2 L328.3 367.8 L332.5 347.1 L337.1 336.8 L345.6 373.6 L350.2 403.4 L354.8 366.7 L358.7 400 L364 412.6 L370.9 413.1 L380.1 414.5 L385.3 404.6 L390.4 421.4 L394.6 400.3 L399.2 413 L404.3 404.3 L408.4 403.8 L413 416.4 L421 423.3 L425.6 413 L430.2 395.7 L434.8 417.6 L438.3 413 L443.3 416.4 L446.3 442.9 L449.8 475 L452.1 491.1 L456.7 544 L461.3 537.1 L465.9 540.6 L470 523.3 L472.3 475 L474.6 436 L476.9 475 L479.2 522.2 L483.1 511.8 L486.6 486.6 L488.4 473.5 L492.3 480.8 L496.9 514.4 L501.5 521.3 L505.6 583.3 L510.2 607.5 L514.8 555.7 L518.7 547.7 L523.3 577.6 L529.1 543.1 L532.5 540.8 L537.1 560.3 L541.7 544.3 L545.6 558.5 L550.2 512.5 L555.5 542 L563.6 546.1 L568.2 521.3 L572.3 506.3 L576.9 506.3 L582 512.1 L586.1 509.8 L590 537.4 L594.6 560.3 L599.2 563.1 L603.8 560.3 L607.7 531.6 L612.3 561.5 L616 556.2 L621 546.6 L626.1 550 L629.8 610.9 L634.8 599.4 L639 635.1 L643.6 560.3 L648.2 594.4 L652.8 551.1 L656.7 530.5 L661.3 547.7 L665.9 538.5 L670.5 548.4 L675.7 544.3 L679.7 535.1 L684.3 539.2 L689.5 531.6 L692.6 531.7 L696 515.2 L698.8 475.5 L700.9 444.5 L708.4 439.3 L714.3 431.7 L718.8 432.4 L722.9 440 L728.1 429 L732.6 435.9 L736.7 436.6 L740.9 415.2 L745.3 410 L750.5 422.1 L755 435.2 L759.1 430.7 L763.6 411 L767.8 409 L771.2 351.4 L775.3 352.4 L781.6 337.6 L786 342.8 L790.2 353.8 L794.7 342.1 L799.8 347.2 L805 346.2 L812.6 351.4 L816.7 322.1 L821.2 328.3 L825.7 320.3 L829.8 297.9 L834.3 276.6 L839.1 313.4 L844.7 308.3 L852.2 296.2 L857.4 299.7 L862.6 311.7 L870.2 342.8 L876.4 334.1 L881.6 328.3 L884.1 326.7 L888 330.6 L892.6 338.2 L896.6 365.7 L900.7 339.8 L906.4 329 L909.9 328.3 L914 288 L919.1 288.5 L923.7 301.8 L927.6 326 L932.4 324.8 L937.5 330.6 L940.9 330.6 L945.5 318.4 L950.1 337.5 L954.7 335.9 L959.3 338.6 L965.5 355.9 L972 370.8 L976.1 330.6 L980 326 L985.3 313.8 L990.3 317.5 L997.2 315.2 L1003.4 305.3 L1007.6 315.6 L1012.2 328.3 L1016.8 301.4 L1021.4 293.8 L1026 307.6 L1030.6 305.3 L1034.5 298.4 L1039.1 305.3 L1043.7 299.5 L1047.8 278.9 L1052 241.6 L1057 228.7 L1061.6 229.4 L1065.7 215.6 L1070.3 209.9 L1074.9 226 L1078.4 221.6 L1083.5 214.7 L1088.3 224.8 L1092.9 225.5 L1097.5 230.1 L1101.4 229.4 L1105.3 208.7 L1110.6 218.6 L1114.5 221.6 L1119.8 227.8 L1123.7 225.5 L1127.9 213.3 L1132.5 224.8 L1141.2 226.2 L1145.1 240.5 L1149.7 263.4 L1154.3 269.2 L1158.9 254.3 L1163.5 248.5 L1168.1 256.1 L1172.7 249.7 L1176.6 228.5 L1181.2 235.4 L1185.8 237 L1190 214.7 L1194.5 218.6 L1199.1 207.1 L1203.3 183 L1207.2 220.9 L1212.5 230.1 L1219.8 229.4 L1225.6 239.3 L1230.2 266.9 L1234.1 254.7 L1238.7 270.3 L1243.3 234 L1247.4 244.6 L1252 261.1 L1256.6 289.9 L1261.2 276.1 L1265.8 280 L1269.9 269.2 L1274.1 305.2 L1278.7 301.3 L1283.3 306.3 L1287.9 297.1 L1291.8 281 L1296.4 276.4 L1301 284.5 L1305.6 285.6 L1310.2 289.1 L1314.8 279.9 L1318.7 273.7 L1323.3 277.6 L1327.5 256.9 L1331.6 245.4 L1336.7 240.8 L1341.3 242 L1345.9 246.1 L1350 245.4 L1354.6 234.6 L1358.5 236.9 L1363.1 231.6 L1367.7 243.1 L1372.3 243.1 L1376.9 246.6 L1380.8 266.8 L1384.9 273.7 L1389.5 263.1 L1394.1 299 L1399.2 293.7 L1403.3 294.4 L1407.5 275.3 L1411.4 254.6 L1416.7 256.2 L1420.6 219 L1424 205.2 L1429.8 191.4 L1434.4 190.2 L1439 181 L1442.9 173 L1447.5 197.8 L1452.3 184 L1456.7 196 L1459.7 237.4 L1462.3 258.7 L1465.7 283.2 L1470.9 248.7 L1474.4 247.2 L1481.6 273.1 L1487.3 301.8 L1492.2 321.4 L1497.4 313.3 L1505.4 286 L1510.3 304.7 L1514 310.5 L1518.9 291.8 L1523.2 283.2 L1527.5 277.4 L1532.4 253 L1537 256.4 L1541.9 265.9 L1546.2 287.5 L1550.5 305.3 L1554.8 295.5 L1562.9 286 L1566.9 313.3 L1572.1 365.1 L1576.4 344.9 L1581.3 367.9 L1585 349.3 L1589.9 358.7 L1593.6 337.8 L1598.5 326.3 L1603.1 352.1 L1608.9 369.4 L1612.3 383.7 L1616.6 434 L1620.9 424 L1625.2 436.9 L1630.1 457 L1635.9 462.2" fill="none" stroke="#5bc389" stroke-width="3.9" stroke-linejoin="round" stroke-linecap="round" clip-path="url(#cA)"/>
<path d="M14.3 472.4 L21.8 435.6 L25.3 394.3 L30.3 389.7 L34.5 400 L39.1 399.3 L42.5 444.8 L47.1 454 L52.4 419.5 L56.3 421.4 L60.9 405.3 L66.2 413.8 L70.1 406.9 L75.9 420 L79.3 419 L83.9 393.1 L88 408 L92.6 380.9 L96.6 380.5 L101.1 369 L105.7 404.6 L110.3 412.2 L114.5 370.1 L119.1 379.3 L124.1 367.1 L128.3 367.8 L132.2 341.4 L137.5 325.3 L141.4 325.3 L147.1 382.8 L150.6 403.9 L155.2 402.3 L159.8 407.6 L163.7 427.6 L169 431.5 L172.4 393.1 L177 387.4 L181.6 420.7 L185.7 436.8 L190.3 426.9 L195.4 443.7 L199.5 451.7 L205.3 440.2 L208.8 433.3 L212.9 408 L216.8 398.9 L221.4 397.7 L226 396.6 L230.2 359.3 L232.9 392 L235.2 410.3 L239.8 428.7 L243.3 454 L248.3 431.5 L253.6 433.3 L261.7 433.8 L265.1 416.1 L268.6 392 L270.4 375.9 L275 380.5 L278.9 342.5 L283.5 340.2 L288.1 370.1 L292.7 362.1 L296.8 324.1 L301.2 347.1 L305.8 344.8 L310 336.3 L314.5 337.9 L319.1 355.2 L323.3 360.2 L328.3 367.8 L332.5 347.1 L337.1 336.8 L345.6 373.6 L350.2 403.4 L354.8 366.7 L358.7 400 L364 412.6 L370.9 413.1 L380.1 414.5 L385.3 404.6 L390.4 421.4 L394.6 400.3 L399.2 413 L404.3 404.3 L408.4 403.8 L413 416.4 L421 423.3 L425.6 413 L430.2 395.7 L434.8 417.6 L438.3 413 L443.3 416.4 L446.3 442.9 L449.8 475 L452.1 491.1 L456.7 544 L461.3 537.1 L465.9 540.6 L470 523.3 L472.3 475 L474.6 436 L476.9 475 L479.2 522.2 L483.1 511.8 L486.6 486.6 L488.4 473.5 L492.3 480.8 L496.9 514.4 L501.5 521.3 L505.6 583.3 L510.2 607.5 L514.8 555.7 L518.7 547.7 L523.3 577.6 L529.1 543.1 L532.5 540.8 L537.1 560.3 L541.7 544.3 L545.6 558.5 L550.2 512.5 L555.5 542 L563.6 546.1 L568.2 521.3 L572.3 506.3 L576.9 506.3 L582 512.1 L586.1 509.8 L590 537.4 L594.6 560.3 L599.2 563.1 L603.8 560.3 L607.7 531.6 L612.3 561.5 L616 556.2 L621 546.6 L626.1 550 L629.8 610.9 L634.8 599.4 L639 635.1 L643.6 560.3 L648.2 594.4 L652.8 551.1 L656.7 530.5 L661.3 547.7 L665.9 538.5 L670.5 548.4 L675.7 544.3 L679.7 535.1 L684.3 539.2 L689.5 531.6 L692.6 531.7 L696 515.2 L698.8 475.5 L700.9 444.5 L708.4 439.3 L714.3 431.7 L718.8 432.4 L722.9 440 L728.1 429 L732.6 435.9 L736.7 436.6 L740.9 415.2 L745.3 410 L750.5 422.1 L755 435.2 L759.1 430.7 L763.6 411 L767.8 409 L771.2 351.4 L775.3 352.4 L781.6 337.6 L786 342.8 L790.2 353.8 L794.7 342.1 L799.8 347.2 L805 346.2 L812.6 351.4 L816.7 322.1 L821.2 328.3 L825.7 320.3 L829.8 297.9 L834.3 276.6 L839.1 313.4 L844.7 308.3 L852.2 296.2 L857.4 299.7 L862.6 311.7 L870.2 342.8 L876.4 334.1 L881.6 328.3 L884.1 326.7 L888 330.6 L892.6 338.2 L896.6 365.7 L900.7 339.8 L906.4 329 L909.9 328.3 L914 288 L919.1 288.5 L923.7 301.8 L927.6 326 L932.4 324.8 L937.5 330.6 L940.9 330.6 L945.5 318.4 L950.1 337.5 L954.7 335.9 L959.3 338.6 L965.5 355.9 L972 370.8 L976.1 330.6 L980 326 L985.3 313.8 L990.3 317.5 L997.2 315.2 L1003.4 305.3 L1007.6 315.6 L1012.2 328.3 L1016.8 301.4 L1021.4 293.8 L1026 307.6 L1030.6 305.3 L1034.5 298.4 L1039.1 305.3 L1043.7 299.5 L1047.8 278.9 L1052 241.6 L1057 228.7 L1061.6 229.4 L1065.7 215.6 L1070.3 209.9 L1074.9 226 L1078.4 221.6 L1083.5 214.7 L1088.3 224.8 L1092.9 225.5 L1097.5 230.1 L1101.4 229.4 L1105.3 208.7 L1110.6 218.6 L1114.5 221.6 L1119.8 227.8 L1123.7 225.5 L1127.9 213.3 L1132.5 224.8 L1141.2 226.2 L1145.1 240.5 L1149.7 263.4 L1154.3 269.2 L1158.9 254.3 L1163.5 248.5 L1168.1 256.1 L1172.7 249.7 L1176.6 228.5 L1181.2 235.4 L1185.8 237 L1190 214.7 L1194.5 218.6 L1199.1 207.1 L1203.3 183 L1207.2 220.9 L1212.5 230.1 L1219.8 229.4 L1225.6 239.3 L1230.2 266.9 L1234.1 254.7 L1238.7 270.3 L1243.3 234 L1247.4 244.6 L1252 261.1 L1256.6 289.9 L1261.2 276.1 L1265.8 280 L1269.9 269.2 L1274.1 305.2 L1278.7 301.3 L1283.3 306.3 L1287.9 297.1 L1291.8 281 L1296.4 276.4 L1301 284.5 L1305.6 285.6 L1310.2 289.1 L1314.8 279.9 L1318.7 273.7 L1323.3 277.6 L1327.5 256.9 L1331.6 245.4 L1336.7 240.8 L1341.3 242 L1345.9 246.1 L1350 245.4 L1354.6 234.6 L1358.5 236.9 L1363.1 231.6 L1367.7 243.1 L1372.3 243.1 L1376.9 246.6 L1380.8 266.8 L1384.9 273.7 L1389.5 263.1 L1394.1 299 L1399.2 293.7 L1403.3 294.4 L1407.5 275.3 L1411.4 254.6 L1416.7 256.2 L1420.6 219 L1424 205.2 L1429.8 191.4 L1434.4 190.2 L1439 181 L1442.9 173 L1447.5 197.8 L1452.3 184 L1456.7 196 L1459.7 237.4 L1462.3 258.7 L1465.7 283.2 L1470.9 248.7 L1474.4 247.2 L1481.6 273.1 L1487.3 301.8 L1492.2 321.4 L1497.4 313.3 L1505.4 286 L1510.3 304.7 L1514 310.5 L1518.9 291.8 L1523.2 283.2 L1527.5 277.4 L1532.4 253 L1537 256.4 L1541.9 265.9 L1546.2 287.5 L1550.5 305.3 L1554.8 295.5 L1562.9 286 L1566.9 313.3 L1572.1 365.1 L1576.4 344.9 L1581.3 367.9 L1585 349.3 L1589.9 358.7 L1593.6 337.8 L1598.5 326.3 L1603.1 352.1 L1608.9 369.4 L1612.3 383.7 L1616.6 434 L1620.9 424 L1625.2 436.9 L1630.1 457 L1635.9 462.2" fill="none" stroke="#d94c4c" stroke-width="3.9" stroke-linejoin="round" stroke-linecap="round" clip-path="url(#cB)"/>
<!-- start label -->
<rect x="18" y="456" width="92" height="36" rx="10" fill="#fff" fill-opacity="0.93"/>
<text x="26.6" y="486" font-size="22.6" fill="#58667e" letter-spacing="0.75">90.54K</text>
<!-- y labels -->
<text x="1647" y="217.9" class="yl">120.00K</text><text x="1647" y="299.8" class="yl">110.00K</text><text x="1647" y="388" class="yl">100.00K</text><text x="1647" y="488" class="yl">90.00K</text><text x="1647" y="597.8" class="yl">80.00K</text><text x="1647" y="723.9" class="yl">70.00K</text>
<rect x="1636" y="436" width="96" height="49.5" rx="5" fill="#5bc389"/>
<text x="1647.5" y="469.9" font-size="22.6" fill="#fff">91.65K</text>
<text x="1660.5" y="818.7" font-size="23" font-weight="bold" fill="#808a9d">USD</text>
<text x="166.1" y="857.7" class="xl">Jan '25</text><text x="425.3" y="857.7" class="xl">Mar '25</text><text x="694.6" y="857.7" class="xl">May '25</text><text x="973.9" y="857.7" class="xl">Jul '25</text><text x="1242.7" y="857.7" class="xl">Sep '25</text><text x="1512.7" y="857.7" class="xl">Nov '25</text>
<rect x="37" y="868.3" width="54" height="12" rx="7" ry="4" fill="#a6b0c3"/>
<g fill="#5bc389"><path d="M181.2 860.2 L190.2 869.2 L172.2 869.2 Z"/><rect x="161.2" y="868" width="40" height="12" rx="10" ry="4"/></g><g fill="#4866ec"><path d="M507 860.2 L516 869.2 L498 869.2 Z"/><rect x="487" y="868" width="40" height="12" rx="10" ry="4"/></g><g fill="#5bc389"><path d="M876.9 860.3 L885.9 869.3 L867.9 869.3 Z"/><rect x="856.9" y="868.1" width="40" height="12" rx="10" ry="4"/></g><g fill="#5bc389"><path d="M1046.8 860.3 L1055.8 869.3 L1037.8 869.3 Z"/><rect x="1026.8" y="868.1" width="40" height="12" rx="10" ry="4"/></g><g fill="#5bc389"><path d="M1230.8 860.1 L1239.8 869.1 L1221.8 869.1 Z"/><rect x="1210.8" y="867.9" width="40" height="12" rx="10" ry="4"/></g><g fill="#5bc389"><path d="M1520.1 862.4 L1529.1 871.4 L1511.1 871.4 Z"/><rect x="1500.1" y="870.2" width="40" height="12" rx="10" ry="4"/></g><g fill="#4866ec"><path d="M1549.9 862.4 L1558.9 871.4 L1540.9 871.4 Z"/><rect x="1529.9" y="870.2" width="40" height="12" rx="10" ry="4"/></g>
</svg>
</body></html>
